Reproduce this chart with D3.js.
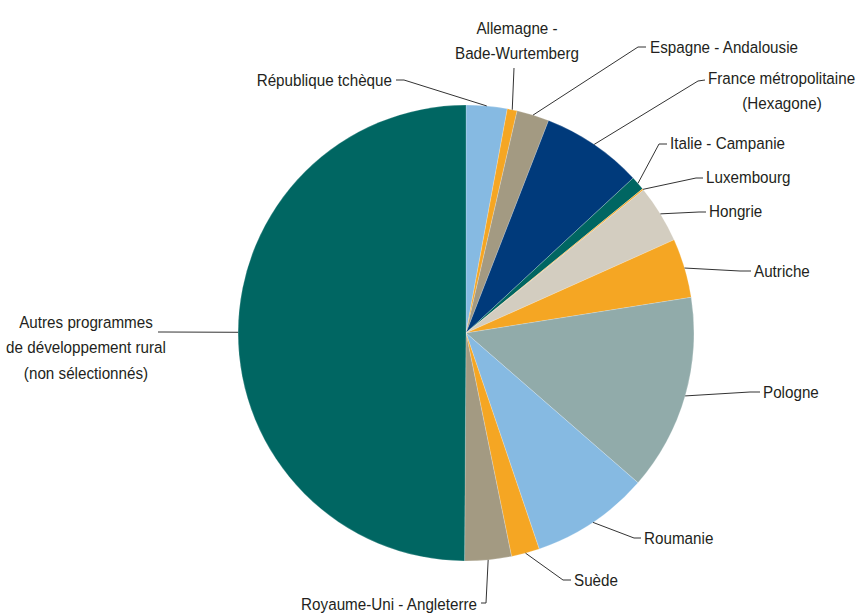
<!DOCTYPE html>
<html>
<head>
<meta charset="utf-8">
<script src="https://cdn.jsdelivr.net/npm/d3@7"></script>
<style>
  html, body { margin: 0; padding: 0; background: #fff; }
  svg { display: block; }
  text { font-family: "Liberation Sans", Arial, sans-serif; font-size: 17px; fill: #231f20; }
</style>
</head>
<body>
<svg id="chart" width="860" height="614"></svg>
<script>
// ---- data ----
const categories = [
  "République tchèque",
  "Allemagne - Bade-Wurtemberg",
  "Espagne - Andalousie",
  "France métropolitaine (Hexagone)",
  "Italie  - Campanie",
  "Luxembourg",
  "Hongrie",
  "Autriche",
  "Pologne",
  "Roumanie",
  "Suède",
  "Royaume-Uni - Angleterre",
  "Autres programmes de développement rural (non sélectionnés)"
];
const values = [2.9, 0.7, 2.3, 7.2, 1.0, 0.1, 4.1, 4.2, 13.9, 8.4, 2.0, 3.3, 49.9];
const colors = ["#86bae2", "#f5a623", "#a39a82", "#003a7b", "#006662", "#f5a623", "#d3cdc0",
                "#f5a623", "#91abaa", "#86bae2", "#f5a623", "#a39a82", "#006662"];
const labelLines = [
  ["République tchèque"],
  ["Allemagne -", "Bade-Wurtemberg"],
  ["Espagne - Andalousie"],
  ["France métropolitaine", "(Hexagone)"],
  ["Italie  - Campanie"],
  ["Luxembourg"],
  ["Hongrie"],
  ["Autriche"],
  ["Pologne"],
  ["Roumanie"],
  ["Suède"],
  ["Royaume-Uni - Angleterre"],
  ["Autres programmes", "de développement rural", "(non sélectionnés)"]
];

// ---- layout (label placement) ----
const layout = [
  {x: 392, y: 80,  anchor: "end",    hook: [396, 80],  elbow: [404, 80]},
  {x: 517, y: 28,  anchor: "middle", hook: [514, 68],  elbow: [514, 68]},
  {x: 650, y: 47,  anchor: "start",  hook: [646, 47],  elbow: [638, 47]},
  {x: 708, y: 78,  anchor: "start",  hook: [705, 80],  elbow: [698, 81], sub: {x: 782}},
  {x: 670, y: 143, anchor: "start",  hook: [667, 144], elbow: [659, 144]},
  {x: 706, y: 177, anchor: "start",  hook: [703, 178], elbow: [696, 178]},
  {x: 709, y: 211, anchor: "start",  hook: [706, 212], elbow: [699, 212]},
  {x: 754, y: 271, anchor: "start",  hook: [751, 271], elbow: [740, 271]},
  {x: 763, y: 392, anchor: "start",  hook: [760, 392], elbow: [750, 392]},
  {x: 644, y: 538, anchor: "start",  hook: [641, 538], elbow: [634, 538]},
  {x: 574, y: 580, anchor: "start",  hook: [571, 580], elbow: [563, 580]},
  {x: 477, y: 604, anchor: "end",    hook: [481, 603], elbow: [486, 603]},
  {x: 86,  y: 322, anchor: "middle", hook: [158, 332], elbow: [164, 332]}
];

const cx = 466, cy = 333, R = 228, lineH = 25.5;
const svg = d3.select("#chart");
const data = categories.map((c, i) => ({name: c, value: values[i], i}));

const pie = d3.pie().sort(null).value(d => d.value);
const arcs = pie(data);
const arc = d3.arc().innerRadius(0).outerRadius(R);

const g = svg.append("g").attr("transform", `translate(${cx},${cy})`);
g.selectAll("path.slice").data(arcs).join("path")
  .attr("class", "slice")
  .attr("d", arc)
  .attr("fill", d => colors[d.data.i])
  .attr("stroke", "#ffffff")
  .attr("stroke-opacity", 0.5)
  .attr("stroke-width", 0.4);

// leader lines
const lineGen = d3.line();
svg.selectAll("path.leader").data(arcs).join("path")
  .attr("class", "leader")
  .attr("fill", "none")
  .attr("stroke", "#333")
  .attr("stroke-width", 1)
  .attr("d", d => {
    const a = (d.startAngle + d.endAngle) / 2;
    const p = [cx + R * Math.sin(a), cy - R * Math.cos(a)];
    const L = layout[d.data.i];
    return lineGen([L.hook, L.elbow, p]);
  });

// condensed-look factor: measure a reference label against its width in the chart
const probe = svg.append("text").text("Royaume-Uni - Angleterre");
const k = Math.min(1, 176 / probe.node().getComputedTextLength());
probe.remove();

// labels
arcs.forEach(d => {
  const L = layout[d.data.i];
  const lines = labelLines[d.data.i];
  lines.forEach((t, j) => {
    let x = L.x, anchor = L.anchor;
    if (j > 0 && L.sub) { x = L.sub.x; anchor = "middle"; }
    svg.append("text")
      .attr("transform", `translate(${x},${L.y + j * lineH}) scale(${k},1)`)
      .attr("dy", "0.35em")
      .attr("text-anchor", anchor)
      .text(t);
  });
});
</script>
</body>
</html>
